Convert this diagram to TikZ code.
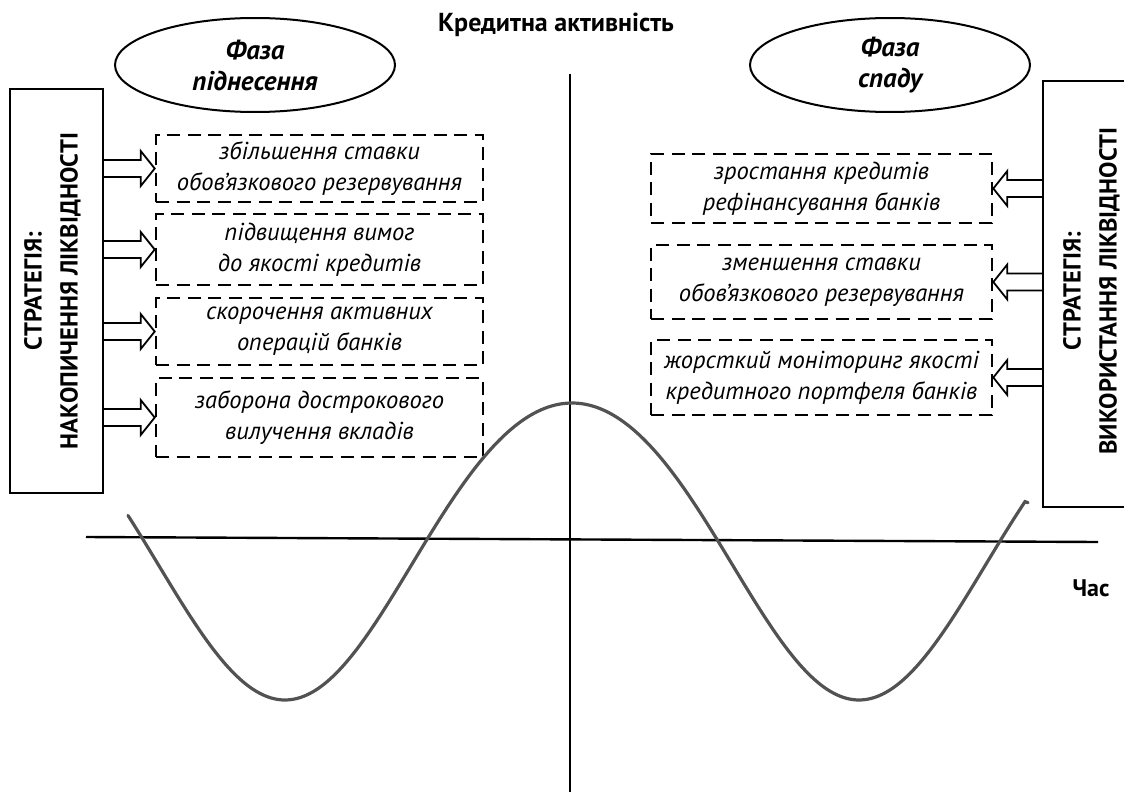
\documentclass[tikz,border=0pt]{standalone}
\usepackage{fontspec}
\setmainfont{PT Sans}
\usetikzlibrary{shapes.geometric}
\usetikzlibrary{calc}

\begin{document}
\begin{tikzpicture}[x=1pt, y=-1pt, line join=miter,
    phase/.style={draw, line width=2pt, ellipse, minimum width=280, minimum height=94,
        align=center, font=\fontsize{27}{31}\selectfont\bfseries\itshape},
    stratbox/.style={draw, line width=2.4pt, rectangle, inner sep=0},
    strattext/.style={rotate=90, align=center, font=\fontsize{24.5}{36}\selectfont\bfseries},
    measure/.style={draw, dash pattern=on 13pt off 7.5pt, line width=2.6pt, rectangle,
        align=center, inner sep=0, font=\fontsize{24.5}{31}\selectfont\itshape},
    fatarr/.style={line width=1.8pt},
    axis/.style={line width=2.4pt},
    wave/.style={line width=3.2pt, draw=black!68, line cap=round},
    lbl/.style={font=\fontsize{26}{30}\selectfont\bfseries}]
    % циклічність кредитної активності та стратегії ліквідності
    \def\hl{14}
    \def\hw{17.5}
    \def\sh{8.5}
    \useasboundingbox (0,0) rectangle (1124,792);
    \clip (0,0) rectangle (1124,792);

    \coordinate (ytop) at (570,74);
    \coordinate (ybot) at (570,792);
    \coordinate (xl) at (86,537);
    \coordinate (xr) at (1098,542);
    \draw[axis] (ytop) -- (ybot);
    \draw[axis] (xl) -- (xr);
    \node[lbl] (ttl) at (556,25) {Кредитна активність};
    \node[lbl, font=\fontsize{24}{28}\selectfont\bfseries] (tm) at (1091,588) {Час};

    \node[phase] (up) at (255,65) {Фаза\\піднесення};
    \node[phase] (down) at (890,65) {Фаза\\спаду};

    \node[stratbox, minimum width=93, minimum height=404] (lbox) at (56.5,291) {};
    \node[strattext] (ltext) at (52.5,291) {СТРАТЕГІЯ:\\НАКОПИЧЕННЯ ЛІКВІДНОСТІ};
    \node[stratbox, minimum width=107, minimum height=426] (rbox) at (1096.5,294) {};
    \node[strattext] (rtext) at (1091.5,291) {СТРАТЕГІЯ:\\ВИКОРИСТАННЯ ЛІКВІДНОСТІ};

    \node[measure, minimum width=327, minimum height=67] (lb1) at (319.5,168.5)
        {збільшення ставки\\обов’язкового резервування};
    \node[measure, minimum width=327, minimum height=71] (lb2) at (319.5,249.5)
        {підвищення вимог\\до якості кредитів};
    \node[measure, minimum width=327, minimum height=67] (lb3) at (319.5,331.5)
        {скорочення активних\\операцій банків};
    \node[measure, minimum width=327, minimum height=79] (lb4) at (319.5,417.5)
        {заборона дострокового\\вилучення вкладів};

    \node[measure, minimum width=341, minimum height=69] (rb1) at (821.5,188.5)
        {зростання кредитів\\рефінансування банків};
    \node[measure, minimum width=341, minimum height=74] (rb2) at (821.5,282)
        {зменшення ставки\\обов’язкового резервування};
    \node[measure, minimum width=341, minimum height=75] (rb3) at (821.5,377.5)
        {жорсткий моніторинг якості\\кредитного портфеля банків};

    \foreach \b in {lb1,lb2,lb3,lb4}{
        \coordinate (s) at (lbox.east |- \b.west);
        \draw[fatarr] ($(s)+(0,-\sh)$) -- ($(\b.west)+(-\hl,-\sh)$) -- ($(\b.west)+(-\hl,-\hw)$)
            -- (\b.west) -- ($(\b.west)+(-\hl,\hw)$) -- ($(\b.west)+(-\hl,\sh)$) -- ($(s)+(0,\sh)$);
    }
    \foreach \b in {rb1,rb2,rb3}{
        \coordinate (s) at (rbox.west |- \b.east);
        \draw[fatarr] ($(s)+(0,-\sh)$) -- ($(\b.east)+(\hl,-\sh)$) -- ($(\b.east)+(\hl,-\hw)$)
            -- (\b.east) -- ($(\b.east)+(\hl,\hw)$) -- ($(\b.east)+(\hl,\sh)$) -- ($(s)+(0,\sh)$);
    }

    \draw[wave, domain=128:1025, samples=240, smooth, variable=\t]
        plot (\t, {537 - 148.5*cos((\t-572)/574*360) + 14.5*(cos((\t-572)/574*360))^2})
        -- ++(3,1);
\end{tikzpicture}
\end{document}
